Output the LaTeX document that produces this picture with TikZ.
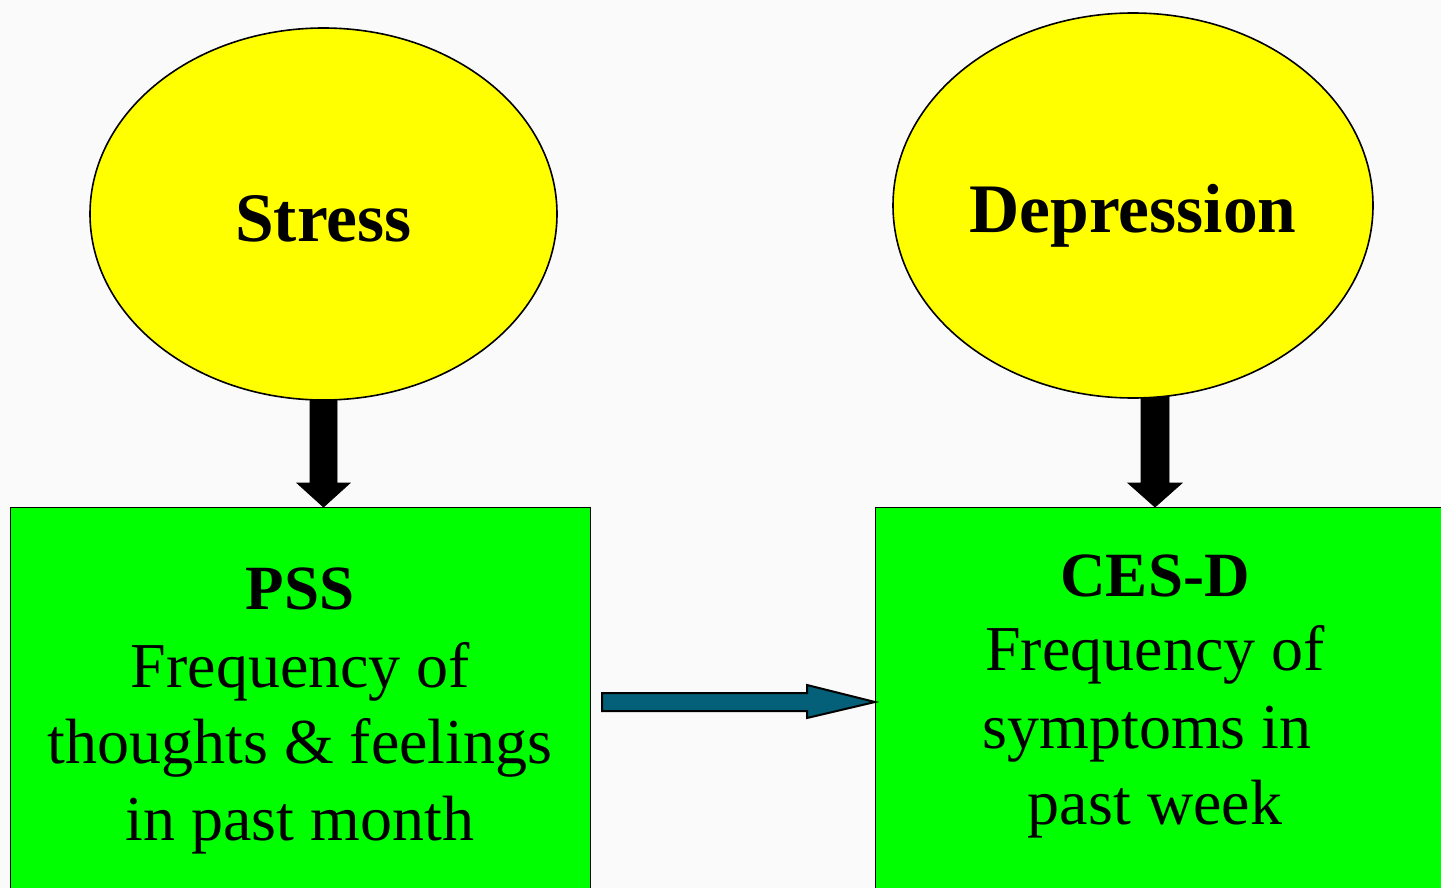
\documentclass[tikz,border=0pt]{standalone}
\usepackage{fontspec}
\setmainfont{Liberation Serif}
\usetikzlibrary{shapes.geometric,calc}
\definecolor{bg}{HTML}{FAFAFA}
\definecolor{ellyellow}{HTML}{FFFF00}
\definecolor{boxgreen}{HTML}{00FF00}
\definecolor{teal}{HTML}{046078}
\tikzset{
  latent/.style={ellipse, draw=black, line width=1.6pt, fill=ellyellow, inner sep=0pt},
  measure/.style={rectangle, draw=black, line width=1.4pt, fill=boxgreen, inner sep=0pt},
  bigarrow/.style={fill=black, draw=black, line width=0.8pt, line join=miter},
  patharrow/.style={fill=teal, draw=black, line width=2pt, line join=miter},
  titletxt/.style={anchor=base, font=\fontsize{69.5}{80}\selectfont\bfseries},
  boxtitle/.style={anchor=base, font=\fontsize{63}{76}\selectfont\bfseries},
  boxtxt/.style={anchor=base, font=\fontsize{64}{77}\selectfont},
}
\begin{document}
\begin{tikzpicture}[x=1pt,y=-1pt]
\fill[bg] (0,0) rectangle (1441,888);
\clip (0,0) rectangle (1441,888);
% boxes
\node[measure, minimum width=580pt, minimum height=420pt, anchor=north west] (pss) at (10,507) {};
\node[measure, minimum width=620pt, minimum height=420pt, anchor=north west] (cesd) at (875,507) {};
% vertical arrows
\draw[bigarrow] (310,398) -- (337,398) -- (337,483) -- (350,483) -- (pss.north -| 323.5,0) -- (297,483) -- (310,483) -- cycle;
\draw[bigarrow] (1141,396) -- (1169,396) -- (1169,483) -- (1182,483) -- (cesd.north -| 1155,0) -- (1128,483) -- (1141,483) -- cycle;
% ellipses
\node[latent, minimum width=467pt, minimum height=372pt] (stress) at (323.5,214) {};
\node[latent, minimum width=480pt, minimum height=385pt] (dep) at (1133,205.5) {};
\node[titletxt] (stresslbl) at (323.5,241) {Stress};
\node[titletxt] (deplbl) at (1133,232) {Depression};
% horizontal arrow
\draw[patharrow] (602,693) -- (807,693) -- (807,685) -- (cesd.west |- 0,702) -- (807,718) -- (807,711) -- (602,711) -- cycle;
% box texts
\node[boxtitle] (pssT) at (300,609) {PSS};
\node[boxtxt] (pss1) at (300.5,687) {Frequency of};
\node[boxtxt] (pss2) at (300,763) {thoughts \& feelings};
\node[boxtxt] (pss3) at (300,840) {in past month};
\node[boxtitle] (cesdT) at (1155,596) {CES-D};
\node[boxtxt] (cesd1) at (1155,670) {Frequency of};
\node[boxtxt] (cesd2) at (1147,748) {symptoms in};
\node[boxtxt] (cesd3) at (1155,824) {past week};
\end{tikzpicture}
\end{document}
